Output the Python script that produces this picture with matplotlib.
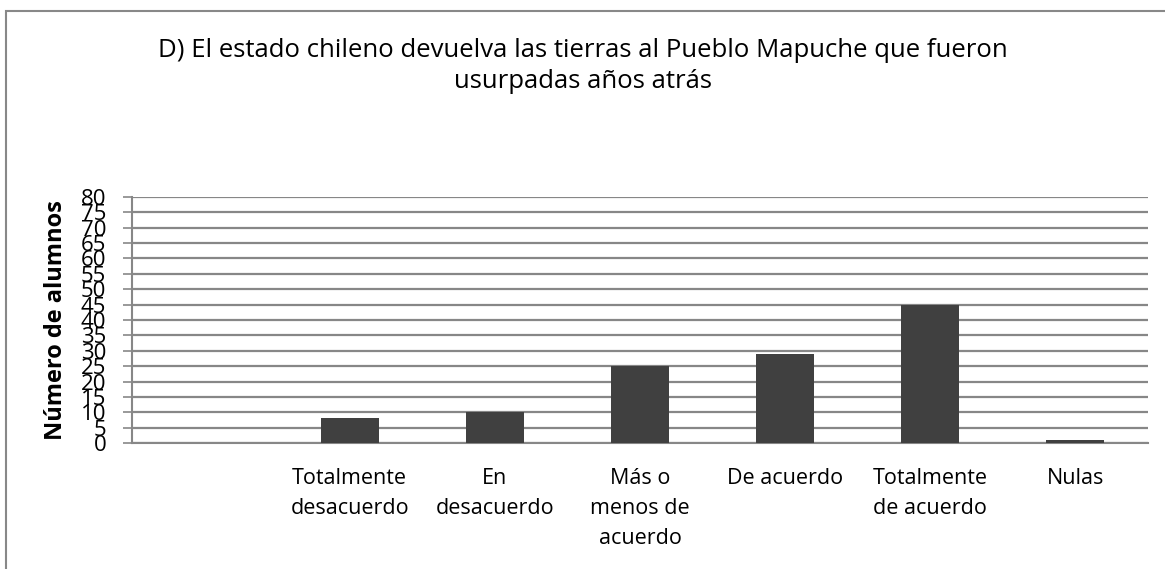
import numpy as np
import matplotlib.pyplot as plt
from matplotlib.patches import Rectangle

# respuestas por categoria (la primera columna queda vacia)
categorias = ['', 'Totalmente\ndesacuerdo', 'En\ndesacuerdo', 'Más o\nmenos de\nacuerdo',
              'De acuerdo', 'Totalmente\nde acuerdo', 'Nulas']
alumnos = [0, 8, 10, 25, 29, 45, 1]
yticks = list(range(0, 85, 5))

titulo = 'D) El estado chileno devuelva las tierras al Pueblo Mapuche que fueron\nusurpadas años atrás'

plt.rcParams['font.family'] = ['Open Sans', 'DejaVu Sans']

fig = plt.figure(figsize=(11.65, 5.69), dpi=100)
ax = fig.add_axes([0.1133, 0.2214, 0.8721, 0.4324])

x = np.arange(len(categorias))
ax.bar(x, alumnos, width=0.4, color='#404040', zorder=3)

ax.set_xlim(-0.5, len(categorias) - 0.5)
ax.set_ylim(0, 80)
ax.set_yticks(yticks)
ax.set_yticklabels([str(v) for v in yticks], fontsize=16)
ax.set_xticks(x)
ax.set_xticklabels(categorias, fontsize=15.5, linespacing=1.55, va='top')

ax.yaxis.grid(True, color='#878787', linewidth=1.6, zorder=0)
ax.tick_params(axis='y', length=6.5, width=1.2, color='#878787', pad=12)
ax.tick_params(axis='x', length=0, pad=18)
for s in ['top', 'right']:
    ax.spines[s].set_visible(False)
for s in ['left', 'bottom']:
    ax.spines[s].set_color('#878787')
    ax.spines[s].set_linewidth(1.5)

ax.set_ylabel('Número de alumnos', fontsize=17, fontweight='bold')
ax.yaxis.set_label_coords(-0.063, 0.5)

fig.text(0.5, 0.884, titulo, ha='center', va='center', fontsize=18.5, linespacing=1.3)

# marco exterior del grafico
fig.add_artist(Rectangle((6 / 1165, -0.05), 1.2, 1 - 11 / 569 + 0.05,
                         transform=fig.transFigure, fill=False,
                         edgecolor='#888888', linewidth=1.5))

fig.savefig('out.png', dpi=100)
